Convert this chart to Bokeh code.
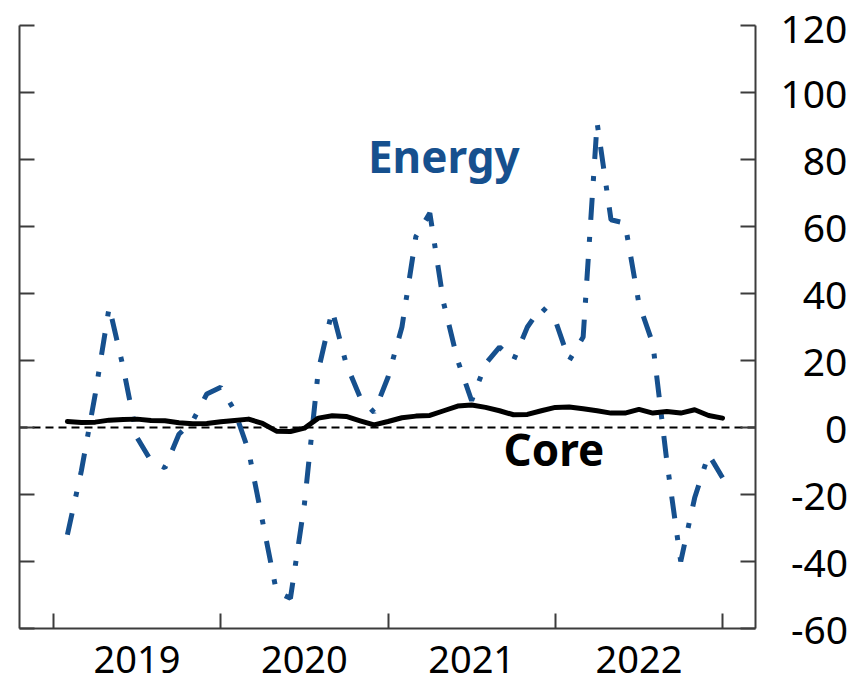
from bokeh.plotting import figure
from bokeh.models import FixedTicker, LinearAxis, Range1d, Span, Label, ColumnDataSource
from bokeh.embed import file_html
from bokeh.resources import INLINE

# Monthly observations, Jan 2019 .. Dec 2022 (plotted at month end)
years = [2019, 2020, 2021, 2022]
month_index = list(range(1, 49))
energy = [-32, -13, 10, 36, 18, -3, -10, -12, -2, 2, 10, 12,
          5, -7, -28, -49, -51, -23, 17, 35, 19, 9, 4.5, 15,
          30, 57, 64, 37, 20, 8, 19, 24, 20, 30, 36, 32,
          20, 27, 91, 62, 61, 37, 25, -10, -40, -21, -8, -15]
core = [1.8, 1.5, 1.6, 2.2, 2.4, 2.5, 2.1, 2.0, 1.4, 1.1, 1.2, 1.7,
        2.1, 2.5, 1.2, -1.1, -1.2, -0.2, 2.8, 3.5, 3.3, 2.0, 0.8, 1.8,
        2.9, 3.4, 3.6, 5.0, 6.4, 6.7, 6.0, 5.0, 3.8, 3.9, 5.0, 6.0,
        6.1, 5.6, 5.0, 4.3, 4.3, 5.4, 4.3, 4.8, 4.3, 5.3, 3.6, 2.8]
y_ticks = [-60, -40, -20, 0, 20, 40, 60, 80, 100, 120]
y_tick_labels = ["-60", "-40", "-20", "0", "20", "40", "60", "80", "100", "120"]

x = [years[0] + m / 12 for m in month_index]
src = ColumnDataSource(dict(x=x, energy=energy, core=core))

FONT = "Noto Sans"
AXIS_COLOR = "#3c3c3c"
BLUE = "#16508e"


def right_pad(s):
    # right-align the labels of a left-aligned axis with figure / punctuation spaces
    digits = sum(c.isdigit() for c in s)
    pad = "\u2007" * (3 - digits - (1 if s.startswith("-") else 0))
    if s.startswith("-"):
        pad += "\u2008"
    return pad + s


p = figure(frame_width=736, frame_height=603,
           min_border_left=19, min_border_top=25, min_border_right=100, min_border_bottom=59,
           x_range=Range1d(2018.797, 2023.197), y_range=Range1d(-60, 120),
           output_backend="svg", toolbar_location=None)
p.outline_line_color = None
p.xgrid.visible = False
p.ygrid.visible = False
p.background_fill_color = "white"
p.border_fill_color = "white"

# zero line
p.add_layout(Span(location=0, dimension="width", line_color="black",
                  line_width=2, line_dash="8 5", level="underlay"))

p.line("x", "energy", source=src, line_color=BLUE, line_width=5,
       line_dash="22 17 5 17", line_cap="butt")
p.line("x", "core", source=src, line_color="black", line_width=5,
       line_join="round", line_cap="round")

# bottom axis: ticks at year boundaries (minor), labels at mid-year (major)
xa = p.xaxis[0]
xa.ticker = FixedTicker(ticks=[yy + 0.5 for yy in years],
                        minor_ticks=years + [years[-1] + 1])
xa.major_label_overrides = {yy + 0.5: str(yy) for yy in years}
xa.major_tick_in = 0
xa.major_tick_out = 0
xa.minor_tick_in = 15
xa.minor_tick_out = 0
xa.major_label_standoff = 17
xa.major_label_text_font = FONT
xa.major_label_text_font_size = "38px"
xa.major_label_text_color = "black"
xa.axis_line_color = AXIS_COLOR
xa.axis_line_width = 2
xa.minor_tick_line_color = AXIS_COLOR
xa.minor_tick_line_width = 2

# left axis: ticks only (drawn as minor ticks so that no labels exist)
ya = p.yaxis[0]
ya.ticker = FixedTicker(ticks=[], minor_ticks=y_ticks)
ya.major_tick_line_color = None
ya.minor_tick_in = 15
ya.minor_tick_out = 0
ya.minor_tick_line_color = AXIS_COLOR
ya.minor_tick_line_width = 2
ya.major_label_standoff = 0
ya.axis_line_color = AXIS_COLOR
ya.axis_line_width = 2

# right axis with labels
ra = LinearAxis(ticker=FixedTicker(ticks=y_ticks))
ra.major_label_overrides = {t: right_pad(s) for t, s in zip(y_ticks, y_tick_labels)}
ra.minor_tick_line_color = None
ra.major_tick_in = 15
ra.major_tick_out = 0
ra.major_label_standoff = 25
ra.major_label_text_font = FONT
ra.major_label_text_font_size = "39px"
ra.major_label_text_color = "black"
ra.axis_line_color = AXIS_COLOR
ra.axis_line_width = 2
ra.major_tick_line_color = AXIS_COLOR
ra.major_tick_line_width = 2
p.add_layout(ra, "right")

p.add_layout(Label(x=2020.88, y=81, text="Energy", text_font=FONT,
                   text_font_style="bold", text_font_size="44px",
                   text_color=BLUE, text_baseline="alphabetic"))
p.add_layout(Label(x=2021.69, y=-6.3, text="Core", text_font=FONT,
                   text_font_style="bold", text_font_size="44px",
                   text_color="black", text_baseline="alphabetic"))

open("out.html", "w").write(file_html(p, INLINE))
